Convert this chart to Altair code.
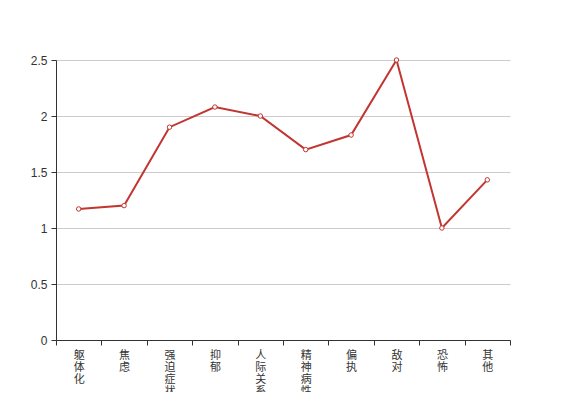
import altair as alt
import pandas as pd

categories = ["躯体化", "焦虑", "强迫症状", "抑郁", "人际关系敏感", "精神病性", "偏执", "敌对", "恐怖", "其他"]
values = [1.17, 1.20, 1.90, 2.08, 2.00, 1.70, 1.83, 2.50, 1.00, 1.43]
y_ticks = [0, 0.5, 1, 1.5, 2, 2.5]

df = pd.DataFrame({"cat": categories, "val": values})

x = alt.X("cat:N", sort=categories, title=None,
          scale=alt.Scale(paddingInner=0, paddingOuter=0),
          axis=alt.Axis(labelAngle=0, tickBand="extent", labelExpr="split(datum.label, '')",
                        labelBaseline="top", labelLineHeight=12, labelPadding=4, tickSize=5,
                        labelFont="Noto Sans CJK SC", labelFontSize=11, labelColor="#333",
                        domainColor="#333", tickColor="#333", grid=False, labelOverlap=False))
y = alt.Y("val:Q", title=None,
          scale=alt.Scale(domain=[0, 2.5], nice=False),
          axis=alt.Axis(values=y_ticks, format="~g", labelFont="Liberation Sans", labelFontSize=12,
                        labelColor="#333", domainColor="#333", tickColor="#333", tickSize=5,
                        labelPadding=4, gridColor="#ccc", grid=True))

base = alt.Chart(df)
line = base.mark_line(color="#c23531", strokeWidth=2).encode(x=x, y=y)
pts = base.mark_point(filled=True, fill="white", stroke="#c23531", strokeWidth=1, size=20, opacity=1).encode(x=x, y=y)

chart = (line + pts).properties(
    width=454, height=280,
    autosize=alt.AutoSizeParams(type="none"),
    padding={"left": 48, "top": 52, "right": 40, "bottom": 52},
).configure_view(stroke=None)

chart.save("out.html", embed_options={"renderer": "svg", "actions": False})
